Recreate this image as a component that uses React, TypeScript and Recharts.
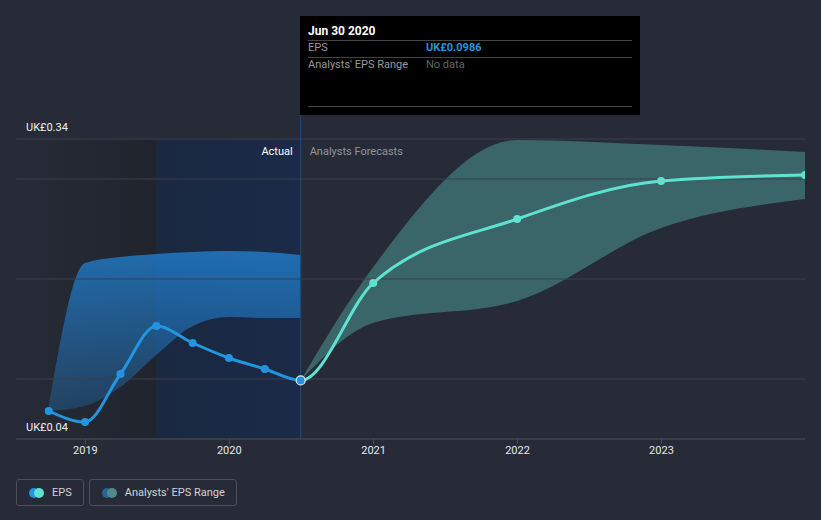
import React from 'react';
import {
  ComposedChart, Line, Area, XAxis, YAxis, ReferenceLine, ReferenceArea,
} from 'recharts';

// reporting dates (actual EPS, trailing)
const ACTUAL_DATES = ['2018-09-30', '2018-12-31', '2019-03-31', '2019-06-30', '2019-09-30', '2019-12-31', '2020-03-31', '2020-06-30'];
const ACTUAL_EPS = [0.068, 0.057, 0.105, 0.153, 0.136, 0.121, 0.110, 0.0986];
const ACTUAL_LOW = [0.068, 0.073, 0.092, 0.124, 0.153, 0.162, 0.161, 0.161];
const ACTUAL_HIGH = [0.072, 0.216, 0.222, 0.225, 0.227, 0.228, 0.227, 0.224];

// analysts forecasts
const FORECAST_DATES = ['2020-06-30', '2020-12-31', '2021-12-31', '2022-12-31', '2023-12-31'];
const FORECAST_EPS = [0.0986, 0.196, 0.260, 0.298, 0.304];
const FORECAST_LOW = [0.0986, 0.156, 0.178, 0.251, 0.280];
const FORECAST_HIGH = [0.0986, 0.212, 0.339, 0.334, 0.327];

const YEAR_TICKS = ['2019-01-01', '2020-01-01', '2021-01-01', '2022-01-01', '2023-01-01'];
const Y_LABELS = [0.04, 0.34];
const GRID_VALUES = [0.1, 0.2, 0.3, 0.34];

const X_START = '2018-07-09';
const X_END = '2023-12-31';
const PAST_YEAR_START = '2019-06-30';
const TODAY = '2020-06-30';

const ts = (d: string) => new Date(d + 'T00:00:00Z').getTime();

const BLUE = '#2394DF';
const TEAL = '#5EE3D0';
const BG = '#262B37';
const FONT = 'Roboto, sans-serif';

// merge both series into one table keyed by date; eps runs through actual + forecast
const rows = new Map<number, any>();
ACTUAL_DATES.forEach((d, i) => {
  const t = ts(d);
  rows.set(t, { ...(rows.get(t) || { t }), eps: ACTUAL_EPS[i], actualRange: [ACTUAL_LOW[i], ACTUAL_HIGH[i]] });
});
FORECAST_DATES.forEach((d, i) => {
  const t = ts(d);
  rows.set(t, { ...(rows.get(t) || { t }), eps: FORECAST_EPS[i], forecastRange: [FORECAST_LOW[i], FORECAST_HIGH[i]] });
});
const DATA = Array.from(rows.values()).sort((a, b) => a.t - b.t);

// where the line colour switches from blue to teal, as a fraction of the line's width
const firstT = DATA[0].t;
const lastT = DATA[DATA.length - 1].t;
const SPLIT = (ts(TODAY) - firstT) / (lastT - firstT);

const epsDot = (props: any) => {
  const { cx, cy, index, payload } = props;
  if (cx == null || cy == null) return <g key={`e-${index}`} />;
  if (payload.t === ts(TODAY)) {
    return <circle key={`e-${index}`} cx={cx} cy={cy} r={4.5} fill={BLUE} stroke="#dfe9f5" strokeWidth={1.2} />;
  }
  return <circle key={`e-${index}`} cx={cx} cy={cy} r={4} fill={payload.t < ts(TODAY) ? BLUE : TEAL} />;
};

const yLabel = (text: string) => (props: any) => {
  const { viewBox } = props;
  return (
    <text x={26} y={viewBox.y - 12} dy="0.35em" fill="#f0f0f0" fontSize={11} fontFamily={FONT}>
      {text}
    </text>
  );
};

const todayLabel = (props: any) => {
  const { viewBox } = props;
  const y = 151;
  return (
    <g fontFamily={FONT} fontSize={11}>
      <text x={viewBox.x - 8} y={y} dy="0.35em" textAnchor="end" fill="#ffffff">Actual</text>
      <text x={viewBox.x + 9} y={y} dy="0.35em" textAnchor="start" fill="#9096a0">Analysts Forecasts</text>
    </g>
  );
};

const EpsChart: React.FC = () => {
  return (
    <div style={{ position: 'absolute', left: 0, top: 0, width: 821, height: 520, background: BG, fontFamily: FONT }}>
      <ComposedChart width={821} height={520} data={DATA} margin={{ top: 114, right: 16, bottom: 51, left: 16 }}>
        <defs>
          <linearGradient id="pastShade" x1="0" y1="0" x2="1" y2="0">
            <stop offset="0%" stopColor="#262B37" />
            <stop offset="100%" stopColor="#20242D" />
          </linearGradient>
          <linearGradient id="yearShade" x1="0" y1="0" x2="1" y2="0">
            <stop offset="0%" stopColor="#1A2840" />
            <stop offset="100%" stopColor="#1B2B47" />
          </linearGradient>
          <linearGradient id="actualBand" x1="0" y1="0" x2="0" y2="1">
            <stop offset="0%" stopColor="#2180D0" stopOpacity={0.78} />
            <stop offset="100%" stopColor="#2180D0" stopOpacity={0.28} />
          </linearGradient>
          <linearGradient id="epsStroke" x1="0" y1="0" x2="1" y2="0">
            <stop offset={SPLIT} stopColor={BLUE} />
            <stop offset={SPLIT} stopColor={TEAL} />
          </linearGradient>
        </defs>
        <XAxis
          dataKey="t"
          type="number"
          scale="time"
          domain={[ts(X_START), ts(X_END)]}
          ticks={YEAR_TICKS.map(ts)}
          tickFormatter={(v: number) => String(new Date(v).getUTCFullYear())}
          height={30}
          tickSize={5}
          axisLine={{ stroke: '#4B515D' }}
          tickLine={{ stroke: '#4B515D' }}
          tick={{ fill: '#e8e8e8', fontSize: 11, fontFamily: FONT }}
          allowDataOverflow
        />
        <YAxis hide type="number" domain={[0.04, 0.365]} allowDataOverflow />
        <ReferenceArea x1={ts(X_START)} x2={ts(PAST_YEAR_START)} y1={0.04} y2={0.34} fill="url(#pastShade)" fillOpacity={1} stroke="none" ifOverflow="visible" />
        <ReferenceArea x1={ts(PAST_YEAR_START)} x2={ts(TODAY)} y1={0.04} y2={0.34} fill="url(#yearShade)" fillOpacity={1} stroke="none" ifOverflow="visible" />
        {GRID_VALUES.map((v) => (
          <ReferenceLine key={v} y={v} stroke="#3B414D" strokeWidth={1} />
        ))}
        {Y_LABELS.map((v) => (
          <ReferenceLine key={`l${v}`} y={v} stroke="none" label={yLabel(`UK£${v.toFixed(2)}`)} />
        ))}
        <ReferenceLine x={ts(TODAY)} stroke="#1F4A7C" strokeWidth={1} label={todayLabel} />
        <Area
          dataKey="actualRange"
          type="monotone"
          stroke="none"
          fill="url(#actualBand)"
          fillOpacity={1}
          isAnimationActive={false}
          connectNulls={false}
        />
        <Area
          dataKey="forecastRange"
          type="monotone"
          stroke="none"
          fill="#5BBFB5"
          fillOpacity={0.4}
          isAnimationActive={false}
          connectNulls={false}
        />
        <Line
          dataKey="eps"
          type="monotone"
          stroke="url(#epsStroke)"
          strokeWidth={3}
          dot={epsDot}
          activeDot={false}
          isAnimationActive={false}
        />
      </ComposedChart>

      {/* tooltip box pinned to the current period */}
      <div style={{ position: 'absolute', left: 300, top: 16, width: 340, height: 99, background: '#000', fontSize: 11 }}>
        <div style={{ position: 'absolute', left: 8, top: 8, color: '#fff', fontWeight: 700, fontSize: 12 }}>Jun 30 2020</div>
        <div style={{ position: 'absolute', left: 8, right: 8, top: 24, borderTop: '1px solid #444' }} />
        <div style={{ position: 'absolute', left: 8, top: 25, color: '#9a9a9a' }}>EPS</div>
        <div style={{ position: 'absolute', left: 126, top: 25, color: BLUE, fontWeight: 700 }}>UK£0.0986</div>
        <div style={{ position: 'absolute', left: 8, right: 8, top: 41, borderTop: '1px solid #444' }} />
        <div style={{ position: 'absolute', left: 8, top: 42, color: '#9a9a9a' }}>Analysts' EPS Range</div>
        <div style={{ position: 'absolute', left: 126, top: 42, color: '#666' }}>No data</div>
        <div style={{ position: 'absolute', left: 8, right: 8, top: 90, borderTop: '1px solid #444' }} />
      </div>

      {/* legend */}
      <div style={{ position: 'absolute', left: 16, top: 479, display: 'flex', gap: 5, fontSize: 11, color: '#d0d3d8' }}>
        {[
          { label: 'EPS', a: BLUE, b: TEAL },
          { label: "Analysts' EPS Range", a: '#2A6496', b: '#4E8C8A' },
        ].map((item) => (
          <div key={item.label} style={{ display: 'flex', alignItems: 'center', height: 27, padding: '0 11px 0 12px', border: '1px solid #4A505C', borderRadius: 3, boxSizing: 'border-box' }}>
            <svg width={15} height={10} style={{ marginRight: 8 }}>
              <circle cx={5} cy={5} r={5} fill={item.a} />
              <circle cx={10} cy={5} r={5} fill={item.b} />
            </svg>
            {item.label}
          </div>
        ))}
      </div>
    </div>
  );
};

export default EpsChart;
